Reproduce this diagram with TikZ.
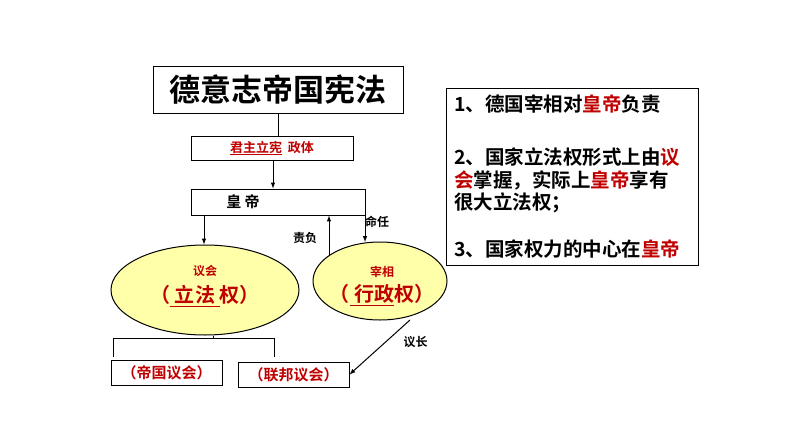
\documentclass[tikz,border=0pt]{standalone}
\usepackage{fontspec}
\setmainfont{Noto Sans CJK SC}[BoldFont={* Bold}]
\usepackage{tikz}
\tikzset{>=latex}
\definecolor{dred}{RGB}{192,0,0}
\definecolor{pyellow}{RGB}{255,255,170}
\tikzset{
    box/.style={draw,line width=1pt,inner sep=0pt},
    oval/.style={draw,line width=1pt,fill=pyellow,ellipse,inner sep=0pt},
    lab/.style={font=\fontsize{12}{14}\selectfont\bfseries},
    noteline/.style={anchor=west,inner sep=0pt,font=\fontsize{19.5}{23}\selectfont\bfseries}
}
\newcommand{\rd}[1]{\textcolor{dred}{#1}}
\usetikzlibrary{shapes.geometric}
\begin{document}
\begin{tikzpicture}[x=1pt,y=-1pt]
    \useasboundingbox (0,0) rectangle (794,447);
    \node[box,minimum width=250pt,minimum height=47pt,font=\fontsize{31}{33}\selectfont\bfseries]
        (title) at (278,89.5) {德意志帝国宪法};
    \node[box,minimum width=162pt,minimum height=24pt,font=\fontsize{13}{15}\selectfont\bfseries]
        (form) at (272,148) {\rd{\underline{君主立宪}\ \ 政体}};
    \node[box,minimum width=174pt,minimum height=26pt] (emp) at (278,202) {};
    \node[lab,font=\fontsize{15}{17}\selectfont\bfseries] (empt) at (243,202) {皇\ 帝};
    \node[oval,minimum width=188pt,minimum height=90pt] (parl) at (205,290) {};
    \node[lab,text=dred] (parlt) at (205,271) {议会};
    \node[font=\fontsize{20}{22}\selectfont\bfseries,text=dred] (parlp) at (205,296)
        {（\underline{\ 立法\ }权）};
    \node[oval,minimum width=134pt,minimum height=78pt] (chan) at (380,281) {};
    \node[lab,text=dred] (chant) at (382,272) {宰相};
    \node[font=\fontsize{20}{22}\selectfont\bfseries,text=dred] (chanp) at (382,295)
        {（\underline{\ 行政}权）};
    \node[box,minimum width=111pt,minimum height=25pt,font=\fontsize{15}{17}\selectfont\bfseries,text=dred]
        (reich) at (166.5,372.5) {（帝国议会）};
    \node[box,minimum width=111pt,minimum height=25pt,font=\fontsize{15}{17}\selectfont\bfseries,text=dred]
        (bund) at (293.5,374.5) {（联邦议会）};
    % connectors
    \draw[line width=1pt] (title.south) -- (form.north -| title.south);
    \draw[->,line width=1pt] (273,160) -- (emp.north -| 273,0);
    \draw[->,line width=1pt] (204,216) -- (parl.north -| 204,0);
    \coordinate (up0) at (329,256);
    \coordinate (dn1) at (365,242);
    \draw[->,line width=1pt] (up0) -- (emp.south -| up0);
    \draw[->,line width=1pt] (emp.south -| dn1) -- (dn1);
    \node[lab] (resp) at (305,238) {责负};
    \node[lab] (appt) at (377,222) {命任};
    \coordinate (split) at (213,338);
    \draw[line width=1pt] (parl.south -| split) -- (split);
    \draw[line width=1pt] (113,357) -- (113,338) -- (274,338) -- (274,357);
    \coordinate (cs) at (410,320);
    \draw[->,line width=1pt] (cs) -- node[lab,pos=0.2,below right=2pt] (chair) {议长} (bund.east);
    % notes
    \node[box,minimum width=252pt,minimum height=177pt] (note) at (572,176.5) {};
    \node[noteline] (n1) at (454,104) {1、德国宰相对\rd{皇帝}负责};
    \node[noteline] (n2) at (454,157) {2、国家立法权形式上由\rd{议}};
    \node[noteline] (n3) at (454,180) {\rd{会}掌握，实际上\rd{皇帝}享有};
    \node[noteline] (n4) at (454,203) {很大立法权；};
    \node[noteline] (n5) at (454,249) {3、国家权力的中心在\rd{皇帝}};
\end{tikzpicture}
\end{document}
